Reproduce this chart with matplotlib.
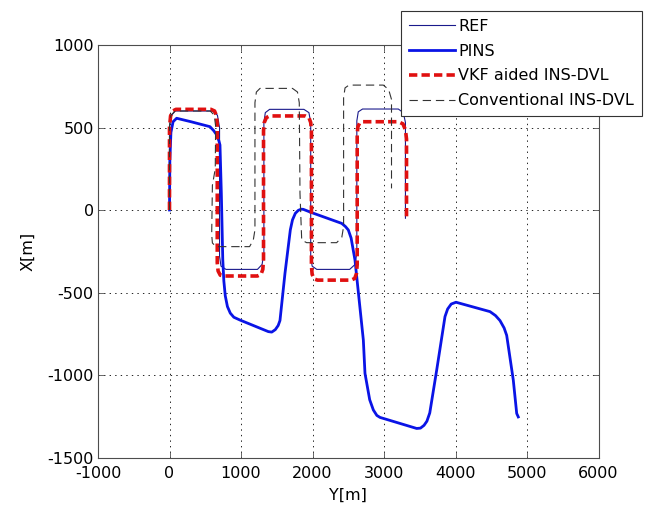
import matplotlib
matplotlib.use("Agg")
import matplotlib.pyplot as plt

plt.rcParams['font.family'] = ['DejaVu Sans']
plt.rcParams['lines.scale_dashes'] = False
plt.rcParams['axes.unicode_minus'] = False

# ---- data (Y[m] horizontal, X[m] vertical) ----
ref_y = [0, 0, 20, 80, 600, 670, 700, 700, 720, 790, 1230, 1295, 1320, 1320, 1340, 1400,
         1880, 1950, 1975, 1975, 1995, 2060, 2520, 2595, 2620, 2620, 2640, 2700, 3200, 3270, 3300, 3300]
ref_x = [0, 500, 570, 600, 600, 575, 500, -280, -340, -360, -360, -330, -260, 530, 590, 610,
         610, 590, 530, -280, -340, -360, -360, -330, -260, 540, 595, 612, 612, 590, 530, -50]

pins_y = [0, 5, 20, 50, 100, 300, 566, 620, 660, 690, 706, 725, 745, 760, 780, 810, 850, 900, 986,
          1382, 1430, 1480, 1520, 1545, 1615, 1690, 1720, 1760, 1802, 1840, 1871, 1989, 2408, 2460,
          2501, 2540, 2594, 2711, 2734, 2800, 2851, 2900, 2944, 3457, 3510, 3560, 3600, 3640, 3737,
          3853, 3890, 3940, 4007, 4483, 4560, 4622, 4680, 4716, 4808, 4856, 4878]
pins_x = [0, 300, 470, 535, 556, 535, 505, 480, 455, 420, 394, 100, -300, -430, -520, -585, -625, -650, -667,
          -737, -740, -725, -700, -670, -384, -120, -60, -20, -2, 5, 4, -16, -81, -100,
          -121, -170, -303, -788, -990, -1150, -1212, -1245, -1257, -1324, -1322, -1305, -1280, -1230, -970,
          -646, -600, -570, -559, -616, -640, -670, -715, -760, -1030, -1233, -1254]

vkf_y = [0, 0, 15, 45, 90, 580, 630, 658, 668, 668, 680, 710, 760, 1230, 1280, 1305, 1315, 1315, 1325,
         1355, 1400, 1900, 1950, 1975, 1985, 1985, 1995, 2025, 2070, 2540, 2590, 2615, 2625, 2625, 2635,
         2660, 2700, 3200, 3265, 3300, 3315, 3315]
vkf_x = [0, 500, 570, 600, 610, 610, 600, 570, 510, -320, -370, -395, -400, -400, -390, -360, -300, 480,
         530, 560, 570, 570, 560, 530, 480, -340, -390, -418, -425, -425, -415, -385, -330, 460, 505,
         528, 535, 535, 522, 485, 430, -60]

conv_y = [0, 0, 20, 80, 570, 625, 645, 640, 600, 590, 600, 650, 1120, 1172, 1195, 1195, 1215, 1266,
          1720, 1790, 1815, 1825, 1849, 1918, 2338, 2410, 2435, 2435, 2455, 2510, 2990, 3065, 3105, 3105]
conv_x = [0, 510, 575, 600, 600, 575, 510, 250, 150, -150, -200, -222, -222, -182, -120, 650, 715, 737,
          737, 715, 650, 100, -182, -198, -198, -165, -100, 680, 740, 757, 757, 730, 670, 131]

xticks = [-1000, 0, 1000, 2000, 3000, 4000, 5000, 6000]
yticks = [-1500, -1000, -500, 0, 500, 1000]
labels = ['REF', 'PINS', 'VKF aided INS-DVL', 'Conventional INS-DVL']

fig = plt.figure(figsize=(6.6, 5.05), dpi=100)
ax = fig.add_axes([98 / 660, 47.5 / 505, 500.5 / 660, 412.5 / 505])

ax.plot(ref_y, ref_x, color='#1a1a8c', lw=0.8, label=labels[0])
ax.plot(pins_y, pins_x, color='#0a14e6', lw=2.0, label=labels[1])
ax.plot(vkf_y, vkf_x, color='#e01010', lw=2.6, linestyle=(0, (6, 3)), label=labels[2])
ax.plot(conv_y, conv_x, color='#333333', lw=0.8, linestyle=(0, (6, 3.5)), label=labels[3])

ax.set_xlim(-1000, 6000)
ax.set_ylim(-1500, 1000)
ax.set_xticks(xticks)
ax.set_yticks(yticks)
ax.tick_params(direction='in', length=4, width=0.6, top=True, right=True,
               labelsize=11.5, colors='#4d4d4d', labelcolor='black')
ax.tick_params(axis='x', pad=6)
ax.tick_params(axis='y', pad=3)
ax.grid(True, color='black', linestyle=(0, (1, 3)), lw=0.6)
for s in ax.spines.values():
    s.set_color('#4d4d4d')
    s.set_linewidth(0.8)

ax.set_xlabel('Y[m]', fontsize=11.5, labelpad=5)
ax.set_ylabel('X[m]', fontsize=11.5, labelpad=9)

leg = ax.legend(loc='upper left', bbox_to_anchor=(400.7 / 660, 1 - 10.7 / 505),
                bbox_transform=fig.transFigure, borderaxespad=0, fancybox=False,
                framealpha=1, edgecolor='#333333', fontsize=11.5, handlelength=2.9,
                handletextpad=0.2, labelspacing=0.62, borderpad=0.5)
leg.get_frame().set_linewidth(0.8)

fig.savefig('out.png', dpi=100)
